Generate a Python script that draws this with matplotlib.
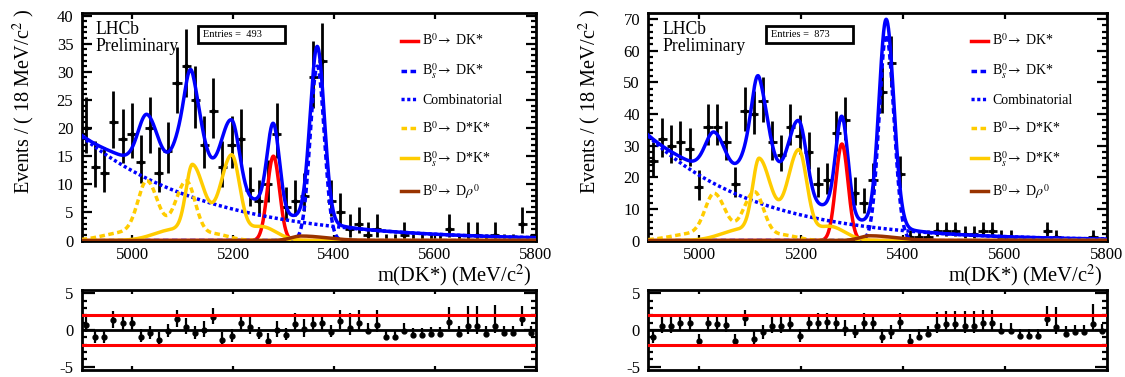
import math

import numpy as np
import matplotlib
matplotlib.use('Agg')
import matplotlib.pyplot as plt
from matplotlib.patches import Rectangle
from matplotlib.ticker import MultipleLocator

plt.rcParams['font.family'] = ['Liberation Serif', 'DejaVu Serif']
plt.rcParams['mathtext.fontset'] = 'stix'
plt.rcParams['axes.unicode_minus'] = False

MASS_LO, MASS_HI, BIN_WIDTH = 4900.0, 5800.0, 18.0

# events per 18 MeV bin, 50 bins from 4900 to 5800
counts_493 = [20, 13, 12, 21, 18, 19, 14, 20, 12, 16,
              28, 31, 25, 17, 23, 13, 17, 18, 9, 7,
              10, 19, 6, 7, 8, 29, 32, 7, 5, 2,
              3, 1, 2, 0, 0, 1, 0, 0, 0, 0,
              2, 0, 1, 1, 0, 1, 0, 0, 3, 0]
counts_873 = [25, 32, 30, 31, 29, 17, 36, 36, 31, 18,
              41, 40, 44, 31, 27, 36, 33, 28, 18, 19,
              34, 38, 15, 12, 19, 47, 56, 21, 1, 1,
              1, 3, 3, 3, 2, 2, 3, 3, 1, 1,
              0, 0, 0, 3, 1, 0, 0, 0, 1, 0]

# pulls shown in the lower pads
pulls_493 = [0.7, -1.0, -1.0, 1.3, 0.9, 0.9, -0.9, -0.45, -1.3, -0.2,
             1.45, 0.45, -0.45, 0.0, 1.8, -1.3, -0.8, 0.9, 0.45, -0.55,
             -1.45, 0.0, -0.7, 0.8, 0.1, 0.8, 1.0, -0.3, 1.2, 0.3,
             1.0, -0.1, 0.7, -1.0, -1.0, -0.1, -0.7, -0.7, -0.6, -0.6,
             1.1, -0.5, 0.5, 0.5, -0.5, 0.6, -0.4, -0.4, 1.5, -0.4]
pulls_873 = [-1.0, 0.6, 0.6, 0.9, 0.9, -1.5, 1.0, 0.8, 0.7, -1.5,
             1.6, -1.2, -0.3, 0.6, 0.6, 0.8, -0.8, 0.9, 1.0, 1.1,
             0.9, 0.2, -0.3, 1.0, 0.9, -0.9, -0.3, 1.1, -1.5, -0.9,
             -0.5, 0.6, 0.8, 0.8, 0.6, 0.6, 1.0, 1.0, -0.1, -0.1,
             -0.8, -0.8, -0.8, 1.5, 0.4, -0.5, -0.3, -0.3, 0.8, -0.2]

# fit components: (mean, sigma low side, sigma high side, height per bin)
b0_dk_493 = [(5280, 12, 12, 15.0)]
bs_dk_493 = [(5367, 14, 14, 31.0)]
b0_dstk_493 = [(5030, 18, 22, 10.0), (5107, 22, 18, 10.3), (4990, 45, 30, 1.5), (5160, 30, 30, 1.2)]
bs_dstk_493 = [(5120, 13, 24, 12.5), (5197, 22, 16, 14.8), (5085, 40, 30, 2.0), (5255, 30, 30, 2.5)]
b0_drho_493 = [(5335, 20, 50, 0.8)]
comb_493 = (18.5, 0.0040)  # height at 4900, exponential slope

b0_dk_873 = [(5280, 12, 12, 30.5)]
bs_dk_873 = [(5367, 14, 15, 65.0)]
b0_dstk_873 = [(5030, 18, 22, 14.0), (5108, 22, 18, 15.0), (4990, 45, 30, 2.2), (5160, 30, 30, 1.8)]
bs_dstk_873 = [(5118, 13, 24, 24.0), (5195, 22, 16, 28.0), (5085, 40, 30, 3.6), (5255, 30, 30, 4.5)]
b0_drho_873 = [(5335, 20, 50, 1.5)]
comb_873 = (33.0, 0.0047)

legend_labels = [r'B$^0\!\rightarrow$ DK*', r'B$_s^0\!\rightarrow$ DK*', 'Combinatorial',
                 r'B$^0\!\rightarrow$ D*K*', r'B$_s^0\!\rightarrow$ D*K*', r'B$^0\!\rightarrow$ D$\rho^0$']


def peaks_shape(m, peaks):
    out = np.zeros_like(m)
    for mean, sig_lo, sig_hi, height in peaks:
        sig = np.where(m < mean, sig_lo, sig_hi)
        out += height * np.exp(-0.5 * ((m - mean) / sig) ** 2)
    return out


def poisson_cdf(k, mu):
    return sum(math.exp(-mu) * mu ** j / math.factorial(j) for j in range(k + 1))


def bisect(f, a, b):
    fa = f(a)
    for _ in range(80):
        c = 0.5 * (a + b)
        fc = f(c)
        if (fc > 0) == (fa > 0):
            a, fa = c, fc
        else:
            b = c
    return 0.5 * (a + b)


def poisson_errors(n):
    # 68% interval for a count, as RooFit draws it
    if n == 0:
        return 0.0, -math.log(1 - 0.6827)
    lo = bisect(lambda mu: (1 - poisson_cdf(n - 1, mu)) - 0.15865, 0.0, n)
    hi = bisect(lambda mu: poisson_cdf(n, mu) - 0.15865, n, n + 10 * math.sqrt(n) + 10)
    return n - lo, hi - n


def draw_panel(ax, axp, counts, pulls, comps, entries, ymax, ymaj, ymin):
    centres = np.arange(MASS_LO + BIN_WIDTH / 2, MASS_HI, BIN_WIDTH)
    errs = np.array([poisson_errors(n) for n in counts])

    ax.errorbar(centres, counts, xerr=BIN_WIDTH / 2, yerr=errs.T, fmt='o', ms=2.5,
                color='black', elinewidth=2, capsize=0, zorder=2)

    m = np.linspace(MASS_LO, MASS_HI, 1801)
    b0_dk, bs_dk, b0_dstk, bs_dstk, b0_drho, comb = comps
    y_b0dk = peaks_shape(m, b0_dk)
    y_bsdk = peaks_shape(m, bs_dk)
    y_comb = comb[0] * np.exp(-comb[1] * (m - MASS_LO))
    y_b0dstk = peaks_shape(m, b0_dstk)
    y_bsdstk = peaks_shape(m, bs_dstk)
    y_drho = peaks_shape(m, b0_drho)
    total = y_b0dk + y_bsdk + y_comb + y_b0dstk + y_bsdstk + y_drho

    lw = 2.5
    h1, = ax.plot(m, y_b0dk, color='#ff0000', lw=lw, zorder=4)
    h2, = ax.plot(m, y_bsdk, color='#0000ff', lw=lw, ls=(0, (1.6, 1.0)), zorder=4)
    h3, = ax.plot(m, y_comb, color='#0000ff', lw=lw, ls=(0, (0.9, 0.75)), zorder=4)
    h4, = ax.plot(m, y_b0dstk, color='#ffcc00', lw=lw, ls=(0, (1.6, 1.0)), zorder=4)
    h5, = ax.plot(m, y_bsdstk, color='#ffcc00', lw=lw, zorder=4)
    h6, = ax.plot(m, y_drho, color='#993300', lw=lw, zorder=4)
    ax.plot(m, total, color='#0000ff', lw=lw, zorder=3)

    ax.set_xlim(MASS_LO, MASS_HI)
    ax.set_ylim(0, ymax)
    ax.xaxis.set_major_locator(MultipleLocator(200))
    ax.yaxis.set_major_locator(MultipleLocator(ymaj))
    ax.yaxis.set_minor_locator(MultipleLocator(ymin))
    ax.tick_params(axis='both', which='both', direction='in', top=True, right=True,
                   labelsize=12, width=1.6)
    ax.tick_params(axis='y', which='major', length=7, pad=6)
    ax.tick_params(axis='y', which='minor', length=3.5)
    ax.tick_params(axis='x', which='major', length=4.5, pad=5)

    ax.set_xlabel(r'm(DK*) (MeV/c$^{2}$)', fontsize=14.8, loc='right')
    ax.xaxis.set_label_coords(0.99, -0.098)
    ax.set_ylabel(r'Events / ( 18 MeV/c$^{2}$ )', fontsize=14.6, loc='top')
    ax.yaxis.set_label_coords(-0.098, 1.02)

    ax.text(0.031, 0.968, 'LHCb\nPreliminary', transform=ax.transAxes, fontsize=12.7,
            ha='left', va='top', linespacing=1.0)

    ax.add_patch(Rectangle((0.257, 0.868), 0.19, 0.078, transform=ax.transAxes,
                           fill=False, lw=2, ec='black', zorder=6))
    ax.text(0.268, 0.905, 'Entries =  %d' % entries, transform=ax.transAxes,
            fontsize=7.5, ha='left', va='center', zorder=6)

    ax.legend([h1, h2, h3, h4, h5, h6], legend_labels, loc='upper left',
              bbox_to_anchor=(0.703, 0.915), frameon=False, fontsize=10,
              handlelength=1.25, handletextpad=0.3, labelspacing=0.95,
              borderpad=0, borderaxespad=0)

    for side in ax.spines.values():
        side.set_linewidth(2)

    # pull pad
    plo, phi = [], []
    for n, p, (elo, ehi) in zip(counts, pulls, errs):
        if n == 0:
            plo.append(0.0)
            phi.append(1.0)
        elif p >= 0:
            plo.append(1.0)
            phi.append(ehi / elo)
        else:
            plo.append(elo / ehi)
            phi.append(1.0)
    axp.errorbar(centres, pulls, yerr=[plo, phi], fmt='o', ms=3.5, color='black',
                 elinewidth=1.6, capsize=0, zorder=3)
    axp.axhline(0, color='black', lw=2, zorder=2)
    axp.axhline(2, color='#ff0000', lw=2.2, zorder=4)
    axp.axhline(-2, color='#ff0000', lw=2.2, zorder=4)
    axp.set_xlim(MASS_LO, MASS_HI)
    axp.set_ylim(-5.45, 5.45)
    axp.set_yticks([-5, 0, 5])
    axp.set_yticklabels(['-5', '0', '5'])
    axp.yaxis.set_minor_locator(MultipleLocator(1))
    axp.xaxis.set_major_locator(MultipleLocator(200))
    axp.tick_params(axis='both', which='both', direction='in', top=True, right=True,
                    labelsize=12, width=1.6, labelbottom=False)
    axp.tick_params(axis='y', which='major', length=9, pad=6)
    axp.tick_params(axis='y', which='minor', length=3.5)
    axp.tick_params(axis='x', which='major', length=3)
    for side in axp.spines.values():
        side.set_linewidth(2)


fig = plt.figure(figsize=(11.25, 3.77), dpi=100)
ax_a = fig.add_axes([0.0726, 0.362, 0.4036, 0.6027])
axp_a = fig.add_axes([0.0726, 0.0186, 0.4036, 0.2122])
ax_b = fig.add_axes([0.5763, 0.362, 0.4075, 0.6027])
axp_b = fig.add_axes([0.5763, 0.0186, 0.4075, 0.2122])

draw_panel(ax_a, axp_a, counts_493, pulls_493,
           (b0_dk_493, bs_dk_493, b0_dstk_493, bs_dstk_493, b0_drho_493, comb_493),
           493, 40.4, 5, 1)
draw_panel(ax_b, axp_b, counts_873, pulls_873,
           (b0_dk_873, bs_dk_873, b0_dstk_873, bs_dstk_873, b0_drho_873, comb_873),
           873, 71.8, 10, 2)

fig.savefig('out.png', dpi=100)
